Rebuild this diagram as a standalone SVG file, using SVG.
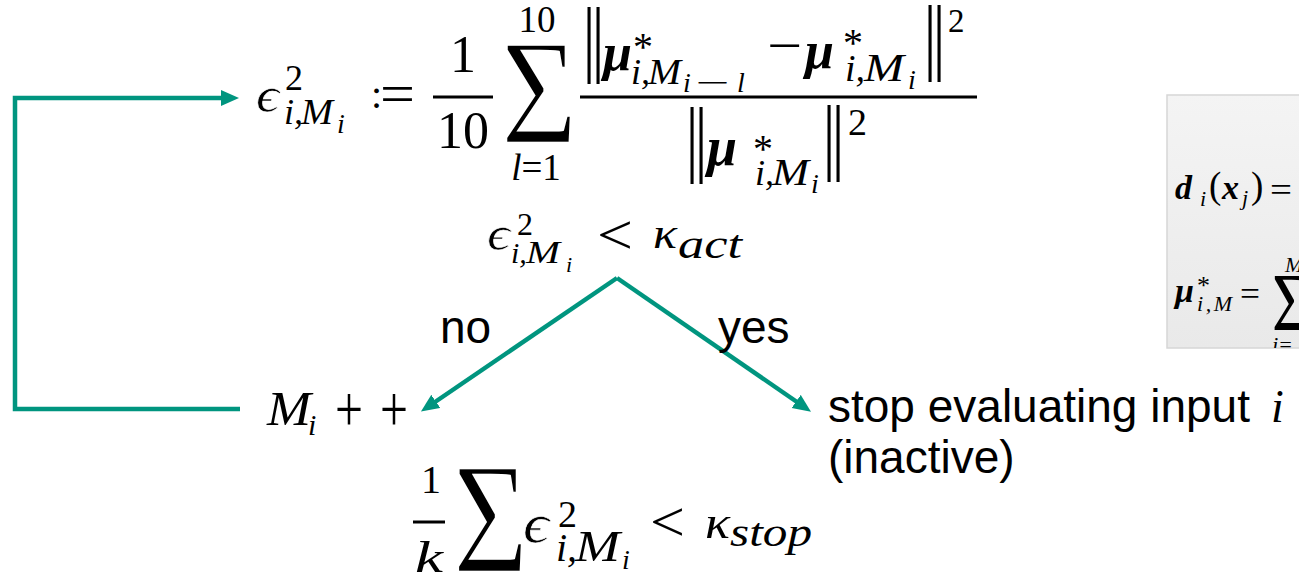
<svg xmlns="http://www.w3.org/2000/svg" width="1299" height="575" viewBox="0 0 1299 575">
<style>
.m{font-family:"Liberation Serif","DejaVu Serif",serif;font-style:italic;fill:#000}
.r{font-family:"Liberation Serif","DejaVu Serif",serif;fill:#000}
.b{font-family:"Liberation Serif","DejaVu Serif",serif;font-style:italic;font-weight:bold;fill:#000}
.s{font-family:"Liberation Sans",Arial,sans-serif;fill:#000}
.n{font-family:"Liberation Serif","DejaVu Serif",serif;fill:#000;text-anchor:middle}
.thin{stroke:#fff;stroke-width:0.6}
.sig{stroke:#fff;stroke-width:2.5}
.bar{stroke:#000;stroke-width:3}
.conn{fill:none;stroke:#00957f;stroke-width:4.5}
</style>
<defs>
<marker id="ah" markerUnits="userSpaceOnUse" markerWidth="20" markerHeight="18" refX="1" refY="8" orient="auto">
<path d="M0,0 L18,8 L0,16 z" fill="#00957f"/>
</marker>
<linearGradient id="gbox" x1="0" y1="0" x2="0" y2="1">
<stop offset="0" stop-color="#f4f4f4"/>
<stop offset="1" stop-color="#e9e9e9"/>
</linearGradient>
<clipPath id="cbox"><rect x="1167" y="95" width="140" height="253"/></clipPath>
</defs>
<g id="connectors">
<path class="conn" d="M240,409 H15 V98 H222" marker-end="url(#ah)"/>
<path class="conn" d="M617,278 L435,402" marker-end="url(#ah)"/>
<path class="conn" d="M617,278 L797,402" marker-end="url(#ah)"/>
</g>
<g id="eq-main">
<text class="m thin" x="256" y="112" font-size="50" textLength="23" lengthAdjust="spacingAndGlyphs">ϵ</text>
<text class="r" x="285" y="90" font-size="36">2</text>
<text class="m" x="284" y="124" font-size="36">i,</text>
<text class="m" x="301" y="124" font-size="36" textLength="32" lengthAdjust="spacingAndGlyphs">M</text>
<text class="m" x="337" y="133" font-size="28">i</text>
<text class="r" x="371" y="108" font-size="40">:</text>
<text class="r" x="380" y="113" font-size="56" textLength="35" lengthAdjust="spacingAndGlyphs">=</text>
<text class="n" x="463" y="72" font-size="52">1</text>
<line class="bar" x1="433" y1="97" x2="493" y2="97"/>
<text class="n" x="463" y="148" font-size="52">10</text>
<text class="n" x="537" y="32" font-size="37">10</text>
<text class="r sig" font-size="151" transform="translate(501,143) scale(0.87,1)">Σ</text>
<text class="n" x="536" y="180" font-size="37"><tspan class="m">l</tspan>=1</text>
<line class="bar" x1="580" y1="97" x2="977" y2="97"/>
<text class="n" font-size="63" transform="translate(589,66) scale(1,1.33)">|</text>
<text class="n" font-size="63" transform="translate(598,66) scale(1,1.33)">|</text>
<text class="b" x="603" y="70" font-size="52">μ</text>
<text class="r" x="633" y="60" font-size="40">*</text>
<text class="m" x="631" y="84" font-size="36">i,</text>
<text class="m" x="648" y="84" font-size="36" textLength="33" lengthAdjust="spacingAndGlyphs">M</text>
<text class="m" x="683" y="92" font-size="28">i</text>
<text class="r" x="696" y="92" font-size="28" textLength="34" lengthAdjust="spacingAndGlyphs">−</text>
<text class="m" x="737" y="92" font-size="28">l</text>
<text class="r" x="767" y="63" font-size="52" textLength="35" lengthAdjust="spacingAndGlyphs">−</text>
<text class="b" x="805" y="68" font-size="52">μ</text>
<text class="r" x="843" y="56" font-size="40">*</text>
<text class="m" x="845" y="81" font-size="38">i,</text>
<text class="m" x="864" y="81" font-size="40" textLength="40" lengthAdjust="spacingAndGlyphs">M</text>
<text class="m" x="908" y="89" font-size="28">i</text>
<text class="n" font-size="63" transform="translate(930,64) scale(1,1.33)">|</text>
<text class="n" font-size="63" transform="translate(939,64) scale(1,1.33)">|</text>
<text class="r" x="948" y="32" font-size="33">2</text>
<text class="n" font-size="63" transform="translate(692,166) scale(1,1.33)">|</text>
<text class="n" font-size="63" transform="translate(701,166) scale(1,1.33)">|</text>
<text class="b" x="707" y="165" font-size="54">μ</text>
<text class="r" x="753" y="162" font-size="40">*</text>
<text class="m" x="755" y="185" font-size="36">i,</text>
<text class="m" x="772" y="185" font-size="38" textLength="37" lengthAdjust="spacingAndGlyphs">M</text>
<text class="m" x="811" y="193" font-size="28">i</text>
<text class="n" font-size="63" transform="translate(829,164) scale(1,1.33)">|</text>
<text class="n" font-size="63" transform="translate(838,164) scale(1,1.33)">|</text>
<text class="r" x="848" y="135" font-size="38">2</text>
</g>
<g id="cond-act">
<text class="m thin" x="487" y="250" font-size="48" textLength="23" lengthAdjust="spacingAndGlyphs">ϵ</text>
<text class="r" x="517" y="235" font-size="32">2</text>
<text class="m" x="511" y="263" font-size="30">i,</text>
<text class="m" x="526" y="263" font-size="32" textLength="34" lengthAdjust="spacingAndGlyphs">M</text>
<text class="m" x="566" y="272" font-size="22">i</text>
<text class="r" x="597" y="254" font-size="56" textLength="36" lengthAdjust="spacingAndGlyphs">&lt;</text>
<text class="m" x="653" y="248" font-size="44" textLength="24" lengthAdjust="spacingAndGlyphs">κ</text>
<text class="m" x="678" y="258" font-size="40" textLength="64" lengthAdjust="spacingAndGlyphs">act</text>
</g>
<g id="label-no"><text class="s" x="440" y="343" font-size="46">no</text></g>
<g id="label-yes"><text class="s" x="718" y="343" font-size="46">yes</text></g>
<g id="node-inc">
<text class="m" x="267" y="425" font-size="48" textLength="44" lengthAdjust="spacingAndGlyphs">M</text>
<text class="m" x="308" y="435" font-size="30">i</text>
<text class="r" x="335" y="431" font-size="66" textLength="28" lengthAdjust="spacingAndGlyphs">+</text>
<text class="r" x="380" y="431" font-size="66" textLength="28" lengthAdjust="spacingAndGlyphs">+</text>
</g>
<g id="cond-stop">
<text class="n" x="431" y="493" font-size="40">1</text>
<line class="bar" x1="413" y1="522" x2="445" y2="522"/>
<text class="m" x="415" y="572" font-size="44" textLength="28" lengthAdjust="spacingAndGlyphs">k</text>
<text class="r sig" font-size="158" transform="translate(453,572) scale(0.82,1)">Σ</text>
<text class="m thin" x="523" y="542" font-size="54" textLength="26" lengthAdjust="spacingAndGlyphs">ϵ</text>
<text class="r" x="558" y="527" font-size="38">2</text>
<text class="m" x="556" y="561" font-size="40">i,</text>
<text class="m" x="575" y="561" font-size="44" textLength="45" lengthAdjust="spacingAndGlyphs">M</text>
<text class="m" x="622" y="569" font-size="28">i</text>
<text class="r" x="650" y="541" font-size="56" textLength="35" lengthAdjust="spacingAndGlyphs">&lt;</text>
<text class="m" x="705" y="538" font-size="46" textLength="25" lengthAdjust="spacingAndGlyphs">κ</text>
<text class="m" x="730" y="546" font-size="40" textLength="82" lengthAdjust="spacingAndGlyphs">stop</text>
</g>
<g id="node-stop">
<text class="s" x="828" y="422" font-size="46">stop evaluating input</text>
<text class="m" x="1271" y="422" font-size="46">i</text>
<text class="s" x="828" y="473" font-size="46">(inactive)</text>
</g>
<g id="box-defs">
<rect x="1167" y="95" width="140" height="253" fill="url(#gbox)" stroke="#d6d6d6" stroke-width="1.5"/>
<g clip-path="url(#cbox)">
<text class="b" x="1175" y="199" font-size="34">d</text>
<text class="m" x="1200" y="206" font-size="22">i</text>
<text class="r" x="1209" y="198" font-size="37">(</text>
<text class="b" x="1222" y="199" font-size="34">x</text>
<text class="m" x="1242" y="205" font-size="22">j</text>
<text class="r" x="1251" y="198" font-size="37">)</text>
<text class="r" x="1270" y="201" font-size="34" textLength="22" lengthAdjust="spacingAndGlyphs">=</text>
<text class="b" x="1175" y="302" font-size="34">μ</text>
<text class="r" x="1197" y="294" font-size="26">*</text>
<text class="m" x="1197" y="311" font-size="22" textLength="35" lengthAdjust="spacing">i,M</text>
<text class="r" x="1240" y="305" font-size="34" textLength="20" lengthAdjust="spacingAndGlyphs">=</text>
<text class="r" font-size="83" transform="translate(1272,330) scale(0.8,1)">Σ</text>
<text class="m" x="1285" y="272" font-size="22">M</text>
<text class="m" x="1272" y="352" font-size="22">j=</text>
</g>
</g>
</svg>
